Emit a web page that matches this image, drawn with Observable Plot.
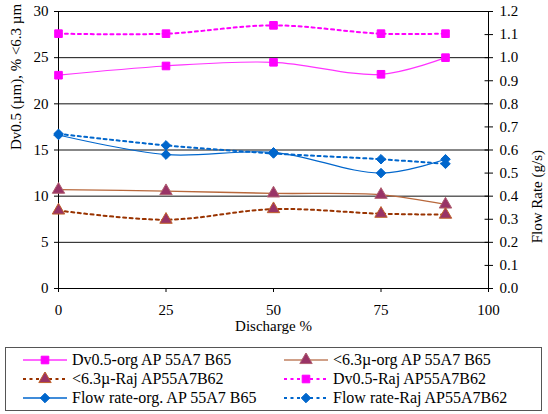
<!DOCTYPE html>
<html>
<head>
<meta charset="utf-8">
<script src="https://cdn.jsdelivr.net/npm/d3@7"></script>
<script src="https://cdn.jsdelivr.net/npm/@observablehq/plot@0.6"></script>
<style>
  body { margin: 0; background: #fff; font-family: "Liberation Serif", "Times New Roman", "DejaVu Serif", serif; }
  #wrap { position: relative; width: 548px; height: 414px; }
  #legend { position: absolute; left: 5px; top: 347px; width: 537px; height: 64px; border: 1px solid #555; box-sizing: border-box; font-size: 16px; color: #000; }
  .item { position: absolute; display: flex; align-items: center; height: 18px; white-space: nowrap; }
  .item svg { margin-right: 4px; }
  .item span { display: inline-block; height: 18px; line-height: 18px; }
  svg text { font-family: "Liberation Serif", "Times New Roman", "DejaVu Serif", serif; }
</style>
</head>
<body>
<div id="wrap"><div id="chart"></div><div id="legend"></div></div>
<script>
const discharge = [0, 25, 50, 75, 90];
const dvOrg = [23.1, 24.1, 24.5, 23.2, 25.0];
const dvRaj = [27.6, 27.6, 28.5, 27.6, 27.6];
const fineOrg = [10.7, 10.55, 10.3, 10.15, 9.1];
const fineRaj = [8.45, 7.45, 8.6, 8.1, 8.0];
const flowOrg = [0.665, 0.58, 0.59, 0.50, 0.56];
const flowRaj = [0.67, 0.62, 0.585, 0.56, 0.54];
const xTicks = [0, 25, 50, 75, 100];
const leftTicks = [0, 5, 10, 15, 20, 25, 30];
const rightTicks = [0, 0.1, 0.2, 0.3, 0.4, 0.5, 0.6, 0.7, 0.8, 0.9, 1.0, 1.1, 1.2];
const flowFactor = 25; // 1.2 g/s on right axis == 30 on left axis

const series = [
  {name: "Dv0.5-org AP 55A7 B65", values: dvOrg, scale: 1, stroke: "#FF33FF", dash: null, width: 1.2, symbol: "square", fill: "#FF00FF", mstroke: "#FF00FF", r: 4.3},
  {name: "<6.3µ-org AP 55A7 B65", values: fineOrg, scale: 1, stroke: "#B8683C", dash: null, width: 1.3, symbol: "triangle", fill: "#993366", mstroke: "#B06070", r: 4.6},
  {name: "<6.3µ-Raj AP55A7B62", values: fineRaj, scale: 1, stroke: "#993300", dash: "3,3.5", width: 2, symbol: "triangle", fill: "#993366", mstroke: "#C0602A", r: 4.6},
  {name: "Dv0.5-Raj AP55A7B62", values: dvRaj, scale: 1, stroke: "#FF00FF", dash: "3,3.5", width: 2, symbol: "square", fill: "#FF00FF", mstroke: "#FF00FF", r: 4.3},
  {name: "Flow rate-org. AP 55A7 B65", values: flowOrg, scale: flowFactor, stroke: "#0066CC", dash: null, width: 1.2, symbol: "diamond2", fill: "#0066CC", mstroke: "#0066CC", r: 4.3},
  {name: "Flow rate-Raj AP55A7B62", values: flowRaj, scale: flowFactor, stroke: "#0066CC", dash: "3,3.5", width: 2, symbol: "diamond2", fill: "#0066CC", mstroke: "#0066CC", r: 4.3}
];

const marks = [];
marks.push(Plot.ruleY(leftTicks.slice(1), {stroke: "#111", strokeWidth: 1}));
marks.push(Plot.frame({stroke: "#000"}));
const drawOrder = [4, 5, 1, 2, 0, 3];
for (const i of drawOrder) {
  const s = series[i];
  const data = discharge.map((d, k) => ({x: d, y: s.values[k] * s.scale}));
  marks.push(Plot.line(data, {x: "x", y: "y", stroke: s.stroke, strokeWidth: s.width, strokeDasharray: s.dash, curve: "catmull-rom"}));
}
for (const i of drawOrder) {
  const s = series[i];
  const data = discharge.map((d, k) => ({x: d, y: s.values[k] * s.scale}));
  marks.push(Plot.dot(data, {x: "x", y: "y", symbol: () => s.symbol, fill: s.fill, stroke: s.mstroke, strokeWidth: 1, r: s.r}));
}
marks.push(Plot.axisX({ticks: xTicks, tickSize: 4, tickPadding: 12, tickFormat: d => String(d), label: null}));
marks.push(Plot.axisY({ticks: leftTicks, tickSize: 4, tickPadding: 6, tickFormat: d => String(d), label: null}));
const rightPos = rightTicks.map(v => v * flowFactor);
marks.push(Plot.axisY({anchor: "right", ticks: rightPos, tickSize: 4, tickPadding: 7, tickFormat: d => (d / flowFactor).toFixed(1), label: null}));
marks.push(Plot.ruleY(rightPos, {x1: 99.2, x2: 100, stroke: "#000"}));
marks.push(Plot.text(["Dv0.5 (µm), % <6.3 µm"], {frameAnchor: "left", dx: -42, rotate: -90, fontSize: 15}));
marks.push(Plot.text(["Flow Rate (g/s)"], {frameAnchor: "right", dx: 49, rotate: -90, fontSize: 15}));
marks.push(Plot.text(["Discharge %"], {frameAnchor: "bottom", dy: 42, fontSize: 15}));

const chart = Plot.plot({
  width: 548,
  height: 345,
  marginLeft: 58,
  marginRight: 60,
  marginTop: 11,
  marginBottom: 57,
  x: {domain: [0, 100]},
  y: {domain: [0, 30]},
  style: {fontFamily: "'Liberation Serif', 'Times New Roman', 'DejaVu Serif', serif", fontSize: "15px", color: "#000", background: "#fff"},
  marks
});
document.getElementById("chart").appendChild(chart);

const legend = d3.select("#legend");
series.forEach((s, k) => {
  const col = k % 2, row = Math.floor(k / 2);
  const item = legend.append("div").attr("class", "item")
    .style("left", (col === 0 ? 16 : 277) + "px")
    .style("top", (3 + row * 19) + "px");
  const svg = item.append("svg").attr("width", 46).attr("height", 14);
  svg.append("line").attr("x1", 1).attr("x2", 45).attr("y1", 7).attr("y2", 7)
    .attr("stroke", k === 1 ? "#C08060" : s.stroke).attr("stroke-width", s.dash ? 2 : 1.6)
    .attr("stroke-dasharray", s.dash);
  const sym = {square: d3.symbolSquare, triangle: d3.symbolTriangle, diamond2: d3.symbolDiamond2}[s.symbol];
  svg.append("path").attr("d", d3.symbol(sym, s.r * s.r * Math.PI)())
    .attr("transform", "translate(23,7)").attr("fill", s.fill).attr("stroke", s.mstroke);
  item.append("span").text(s.name);
});
</script>
</body>
</html>
